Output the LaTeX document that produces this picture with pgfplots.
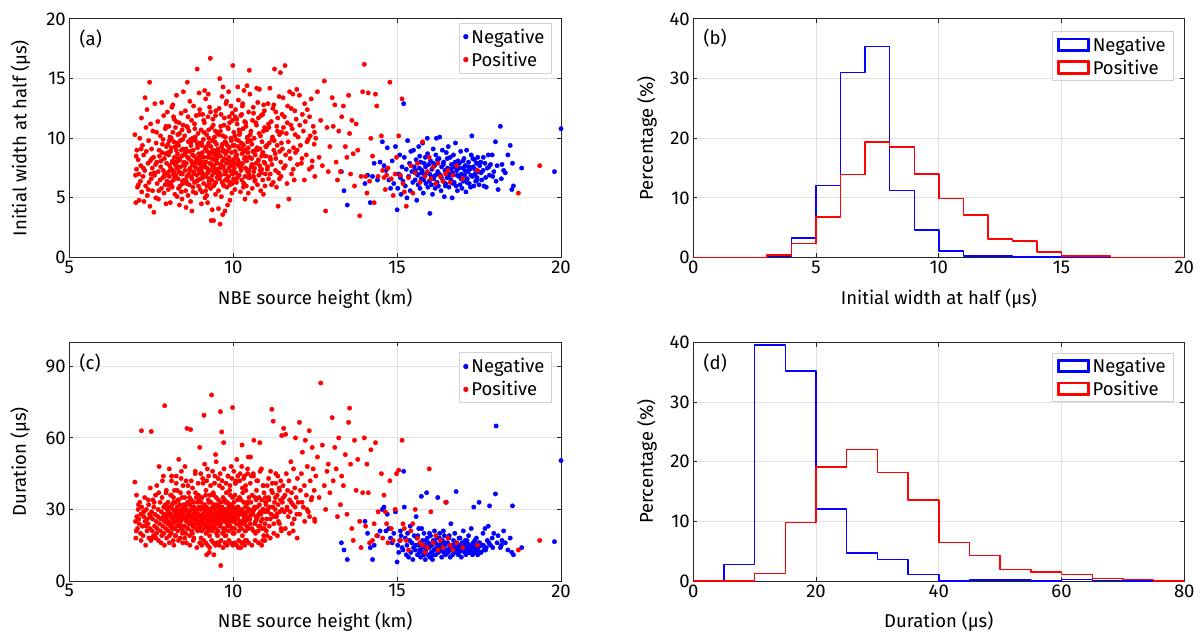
\documentclass[border=0pt]{standalone}
\usepackage{fontspec}
\setmainfont{Fira Sans}
\usepackage{pgfplots}
\usepackage{pgfplotstable}
\pgfplotsset{compat=1.18}
\newcommand\fs{\fontsize{18.5}{22}\selectfont}
\definecolor{nblue}{RGB}{0,0,255}
\definecolor{pred}{RGB}{255,0,0}
\definecolor{axc}{RGB}{38,38,38}
\definecolor{gridc}{RGB}{224,224,224}
\definecolor{legc}{RGB}{210,210,210}

\pgfplotstableread[row sep=\\]{
x w d\\
7.00 10.3 41.5\\ 7.02 6.9 25\\ 7.03 4.6 18\\ 7.05 7.4 36\\ 7.06 9.0 27\\ 7.08 5.9 22\\
7.10 8.2 30\\ 7.12 7.0 26\\ 7.13 4.8 24\\ 7.15 10.0 33\\ 7.17 6.4 20\\ 7.18 7.7 28\\
7.20 11.7 63\\ 7.21 5.5 31\\ 7.23 9.4 23\\ 7.25 6.8 19\\ 7.27 8.6 27\\ 7.28 4.7 29\\
7.30 7.3 35\\ 7.31 13.4 25\\ 7.33 6.0 15\\ 7.35 8.9 30\\ 7.37 12.4 21\\ 7.38 5.2 26\\
7.40 7.9 24\\ 7.42 9.8 32\\ 7.43 6.3 18\\ 7.45 14.7 28\\ 7.46 4.3 22\\ 7.47 8.1 39\\
7.48 11.2 27\\ 7.49 7.0 17\\
7.50 6.6 62.7\\ 7.51 9.1 29\\ 7.53 7.5 21\\ 7.54 5.6 26\\ 7.55 10.6 34\\ 7.57 8.4 19\\
7.58 3.8 31\\ 7.60 6.9 23\\ 7.61 12.9 28\\ 7.63 7.8 36\\ 7.64 5.0 18\\ 7.65 9.6 25\\
7.67 8.0 40\\ 7.68 6.2 22\\ 7.70 11.4 27\\ 7.71 7.2 30\\ 7.72 4.9 17\\ 7.74 9.0 48\\
7.75 8.5 24\\ 7.77 6.5 33\\ 7.78 10.2 21\\ 7.79 7.6 26\\ 7.81 5.8 29\\ 7.82 13.0 19\\
7.83 8.8 35\\ 7.85 6.7 23\\ 7.86 9.9 27\\ 7.87 7.3 44\\ 7.88 11.9 31\\ 7.89 5.4 20\\
7.90 8.3 25\\ 7.91 7.0 73.5\\ 7.92 6.1 28\\ 7.93 10.8 32\\ 7.94 8.7 22\\ 7.95 4.5 26\\
7.96 9.3 38\\ 7.97 7.9 18\\ 7.98 6.4 30\\ 7.99 12.2 24\\
7.04 8.5 21\\ 7.11 6.1 32\\ 7.19 9.1 17\\ 7.26 7.5 29\\ 7.34 10.9 23\\ 7.41 5.7 34\\
7.52 8.3 18\\ 7.59 7.1 33\\ 7.66 10.5 20\\ 7.73 5.6 37\\ 7.80 8.1 16\\ 7.84 9.5 42\\
7.90 6.8 15\\ 7.95 11.0 37\\
8.00 7.1 27\\ 8.01 9.5 33\\ 8.02 5.7 21\\ 8.03 8.6 29\\ 8.04 11.0 25\\ 8.05 6.8 47\\
8.06 7.7 19\\ 8.07 10.1 31\\ 8.08 4.6 23\\ 8.09 8.9 36\\ 8.10 6.3 28\\ 8.11 9.2 20\\
8.12 7.4 42\\ 8.13 12.6 26\\ 8.14 5.9 32\\ 8.15 8.1 24\\ 8.16 10.5 30\\ 8.17 7.0 17\\
8.18 6.5 35\\ 8.19 9.7 27\\ 8.20 11.6 22\\ 8.21 8.4 38\\ 8.22 5.3 29\\ 8.23 7.8 25\\
8.24 10.9 33\\ 8.25 6.9 19\\ 8.26 9.0 44\\ 8.27 13.6 28\\ 8.28 7.5 23\\ 8.29 5.1 31\\
8.30 8.7 26\\ 8.31 10.3 21\\ 8.32 6.6 34\\ 8.33 9.4 29\\ 8.34 7.2 51\\ 8.35 11.3 24\\
8.36 4.4 27\\ 8.37 8.2 32\\ 8.38 6.0 18\\ 8.39 9.8 37\\ 8.40 7.6 25\\ 8.41 12.1 30\\
8.42 5.5 22\\ 8.43 8.5 28\\ 8.44 10.7 35\\ 8.45 7.0 20\\ 8.46 6.2 26\\ 8.47 9.1 40\\
8.48 13.9 31\\ 8.49 7.9 23\\ 8.25 8.0 27\\
8.02 8.8 31\\ 8.04 6.1 24\\ 8.07 7.3 28\\ 8.11 10.0 36\\ 8.14 8.0 22\\ 8.18 11.8 33\\
8.21 6.7 27\\ 8.23 9.3 19\\ 8.27 7.7 30\\ 8.31 8.3 25\\ 8.33 5.8 34\\ 8.36 10.4 28\\
8.39 7.1 23\\ 8.42 9.0 46\\ 8.45 6.4 29\\ 8.47 11.1 21\\ 8.49 8.6 32\\ 8.44 4.9 26\\
8.16 12.8 27\\ 8.29 9.6 38\\
8.05 9.8 16\\ 8.12 6.0 44\\ 8.19 7.2 15\\ 8.26 11.4 41\\ 8.33 8.1 17\\ 8.41 7.0 43\\
8.46 9.9 16\\
8.50 8.0 29\\ 8.51 6.5 23\\ 8.52 10.2 35\\ 8.53 7.3 27\\ 8.54 12.3 31\\ 8.55 5.6 20\\
8.56 9.1 42\\ 8.57 7.9 25\\ 8.58 11.0 30\\ 8.59 6.8 64\\ 8.60 14.7 26\\ 8.61 8.4 33\\
8.62 5.2 22\\ 8.63 9.7 28\\ 8.64 7.0 37\\ 8.65 10.6 24\\ 8.66 6.1 29\\ 8.67 8.9 19\\
8.68 13.1 32\\ 8.69 7.5 27\\ 8.70 4.7 63.5\\ 8.71 9.4 25\\ 8.72 8.1 34\\ 8.73 11.5 21\\
8.74 6.6 30\\ 8.75 7.8 26\\ 8.76 10.0 39\\ 8.77 5.9 23\\ 8.78 9.0 28\\ 8.79 12.7 33\\
8.80 7.2 18\\ 8.81 8.5 31\\ 8.82 6.3 24\\ 8.83 10.8 27\\ 8.84 7.6 45\\ 8.85 9.8 29\\
8.86 5.4 22\\ 8.87 11.9 35\\ 8.88 8.2 26\\ 8.89 6.9 30\\ 8.90 15.8 24\\ 8.91 9.2 33\\
8.92 7.4 21\\ 8.93 10.4 28\\ 8.94 6.0 36\\ 8.95 8.7 25\\ 8.96 13.8 31\\ 8.97 7.1 27\\
8.98 9.6 56\\ 8.99 5.7 23\\
8.52 7.7 18\\ 8.55 8.8 32\\ 8.58 6.2 27\\ 8.61 10.9 22\\ 8.64 8.3 29\\ 8.67 7.4 35\\
8.70 9.9 24\\ 8.73 6.7 31\\ 8.76 8.6 20\\ 8.79 7.0 28\\ 8.82 11.2 26\\ 8.85 8.0 37\\
8.88 6.4 25\\ 8.91 9.5 30\\ 8.94 7.9 22\\ 8.97 12.0 34\\ 8.99 8.4 27\\ 8.56 4.2 26\\
8.74 3.9 24\\
8.53 8.7 48\\ 8.57 6.4 16\\ 8.62 11.8 40\\ 8.68 7.3 15\\ 8.72 9.7 42\\ 8.78 5.5 17\\
8.84 10.1 46\\ 8.89 8.3 14\\ 8.93 6.5 41\\ 8.98 12.4 16\\
9.00 8.1 30\\ 9.01 6.6 24\\ 9.02 10.7 33\\ 9.03 7.3 27\\ 9.04 9.4 21\\ 9.05 5.5 35\\
9.06 8.8 28\\ 9.07 12.0 25\\ 9.08 7.0 41\\ 9.09 9.9 30\\ 9.10 6.2 22\\ 9.11 8.4 69.5\\
9.12 11.3 27\\ 9.13 7.7 32\\ 9.14 5.0 24\\ 9.15 9.1 29\\ 9.16 13.3 36\\ 9.17 8.0 20\\
9.18 6.8 26\\ 9.19 10.3 31\\ 9.20 7.5 23\\ 9.21 8.9 47\\ 9.22 4.6 28\\ 9.23 11.8 25\\
9.24 7.2 34\\ 9.25 9.6 22\\ 9.26 6.4 30\\ 9.27 8.6 27\\ 9.28 12.6 19\\ 9.29 7.9 36\\
9.30 16.7 29\\ 9.31 5.8 24\\ 9.32 9.3 33\\ 9.33 3.1 26\\ 9.34 8.3 78\\ 9.35 10.9 28\\
9.36 6.9 21\\ 9.37 7.6 31\\ 9.38 9.0 25\\ 9.39 11.1 37\\ 9.40 3.1 27\\ 9.41 8.2 23\\
9.42 6.1 32\\ 9.43 10.1 29\\ 9.44 7.4 44\\ 9.45 8.7 26\\ 9.46 5.3 30\\ 9.47 12.3 22\\
9.48 7.1 35\\ 9.49 9.5 27\\
9.02 7.8 18\\ 9.05 8.5 26\\ 9.08 6.7 31\\ 9.11 10.5 24\\ 9.14 7.6 29\\ 9.17 9.2 38\\
9.20 6.0 27\\ 9.23 8.4 21\\ 9.26 10.0 33\\ 9.29 7.3 26\\ 9.32 8.8 30\\ 9.35 6.5 23\\
9.38 11.6 28\\ 9.41 7.7 36\\ 9.44 9.7 25\\ 9.47 6.3 31\\ 9.49 8.0 20\\ 9.03 4.5 27\\
9.13 14.0 30\\ 9.24 13.7 26\\ 9.36 4.0 22\\ 9.46 10.6 53\\ 9.19 5.2 11\\ 9.27 6.2 12\\
9.41 7.2 11\\
9.01 7.5 45\\ 9.04 9.6 15\\ 9.07 6.9 43\\ 9.10 11.5 17\\ 9.13 8.0 49\\ 9.16 5.6 16\\
9.19 9.3 42\\ 9.22 7.1 15\\ 9.25 10.7 44\\ 9.28 6.6 14\\ 9.31 12.2 40\\ 9.34 7.8 17\\
9.37 9.8 46\\ 9.40 6.0 16\\ 9.43 8.6 41\\ 9.46 11.9 15\\ 9.48 7.4 50\\
9.50 8.3 29\\ 9.51 6.7 24\\ 9.52 10.4 32\\ 9.53 7.4 27\\ 9.54 9.1 21\\ 9.55 5.6 34\\
9.56 8.9 28\\ 9.57 12.5 25\\ 9.58 7.1 40\\ 9.59 15.0 30\\ 9.60 2.8 23\\ 9.61 8.5 71\\
9.62 11.0 27\\ 9.63 7.8 33\\ 9.64 5.1 26\\ 9.65 9.3 62.5\\ 9.66 13.5 31\\ 9.67 8.1 20\\
9.68 3.6 29\\ 9.69 10.2 35\\ 9.70 7.6 22\\ 9.71 9.0 58\\ 9.72 6.0 28\\ 9.73 11.7 25\\
9.74 7.3 34\\ 9.75 9.7 22\\ 9.76 6.5 30\\ 9.77 8.7 27\\ 9.78 12.9 19\\ 9.79 7.9 37\\
9.80 13.1 29\\ 9.81 5.9 24\\ 9.82 9.4 33\\ 9.83 4.4 26\\ 9.84 8.2 44\\ 9.85 10.8 28\\
9.86 6.8 21\\ 9.87 7.5 31\\ 9.88 9.2 25\\ 9.89 11.3 38\\ 9.90 4.8 27\\ 9.91 8.0 23\\
9.92 6.3 32\\ 9.93 10.0 29\\ 9.94 7.2 48\\ 9.95 8.8 26\\ 9.96 5.4 30\\ 9.97 12.1 22\\
9.98 7.0 35\\ 9.99 16.1 27\\
9.52 7.9 19\\ 9.55 8.6 26\\ 9.58 6.6 31\\ 9.61 10.6 24\\ 9.64 7.7 29\\ 9.67 9.5 39\\
9.70 6.1 27\\ 9.73 8.3 21\\ 9.76 10.1 33\\ 9.79 7.2 26\\ 9.82 8.9 30\\ 9.85 6.4 23\\
9.88 11.8 28\\ 9.91 7.8 36\\ 9.94 9.8 25\\ 9.97 6.2 31\\ 9.99 8.1 20\\ 9.62 6.9 6.5\\
9.55 4.1 16\\ 9.75 3.9 19\\ 9.86 13.9 32\\ 9.69 14.3 30\\ 9.98 11.5 72.7\\
9.51 9.0 16\\ 9.54 6.8 43\\ 9.57 10.3 15\\ 9.60 7.5 45\\ 9.63 12.0 17\\ 9.66 6.3 42\\
9.69 8.9 14\\ 9.72 11.1 47\\ 9.75 7.0 16\\ 9.78 9.6 41\\ 9.81 6.6 15\\ 9.84 10.9 44\\
9.87 8.4 17\\ 9.90 6.1 40\\ 9.93 12.7 16\\ 9.96 7.7 43\\ 9.99 9.4 15\\
10.00 8.2 31\\ 10.01 6.6 25\\ 10.02 10.5 33\\ 10.03 7.5 28\\ 10.04 9.4 22\\ 10.05 5.7 36\\
10.06 8.9 29\\ 10.07 12.4 26\\ 10.08 7.1 42\\ 10.09 9.9 30\\ 10.10 6.3 24\\ 10.11 8.6 51\\
10.12 11.2 27\\ 10.13 7.8 34\\ 10.14 14.3 26\\ 10.15 9.3 31\\ 10.16 13.2 29\\ 10.17 8.0 21\\
10.18 6.9 28\\ 10.19 10.3 35\\ 10.20 7.6 23\\ 10.21 9.1 45\\ 10.22 5.5 28\\ 10.23 11.9 25\\
10.24 7.3 34\\ 10.25 9.6 22\\ 10.26 6.5 30\\ 10.27 8.7 57\\ 10.28 12.7 19\\ 10.29 7.9 37\\
10.30 10.8 29\\ 10.31 5.9 24\\ 10.32 9.4 33\\ 10.33 14.0 26\\ 10.34 8.3 44\\ 10.35 11.4 28\\
10.36 6.8 21\\ 10.37 7.5 31\\ 10.38 9.0 25\\ 10.39 11.0 38\\ 10.40 6.0 27\\ 10.41 8.1 23\\
10.42 14.4 32\\ 10.43 10.1 29\\ 10.44 7.2 47\\ 10.45 8.8 26\\ 10.46 5.4 30\\ 10.47 12.2 22\\
10.48 7.0 35\\ 10.49 15.7 27\\
10.03 7.9 20\\ 10.08 8.5 26\\ 10.13 6.7 31\\ 10.18 10.7 24\\ 10.23 7.7 29\\ 10.28 9.5 39\\
10.33 6.2 27\\ 10.38 8.4 21\\ 10.43 10.0 33\\ 10.48 7.3 26\\ 10.06 11.8 41\\ 10.16 9.8 14\\
10.26 12.0 16\\ 10.36 4.9 17\\ 10.46 9.2 52\\
10.02 7.2 46\\ 10.05 10.2 16\\ 10.08 6.4 41\\ 10.11 11.6 15\\ 10.14 8.2 44\\ 10.17 6.9 17\\
10.20 10.5 42\\ 10.23 7.6 14\\ 10.26 9.1 48\\ 10.29 12.9 16\\ 10.32 6.2 43\\ 10.35 8.9 15\\
10.38 11.3 40\\ 10.41 7.4 17\\ 10.44 9.7 45\\ 10.47 6.7 16\\
10.50 8.4 30\\ 10.52 6.7 24\\ 10.54 10.6 33\\ 10.55 7.6 28\\ 10.57 9.5 22\\ 10.58 5.8 36\\
10.60 8.9 29\\ 10.61 12.6 45\\ 10.63 7.2 59\\ 10.64 10.0 30\\ 10.66 6.4 24\\ 10.67 8.6 35\\
10.69 11.3 27\\ 10.70 7.9 34\\ 10.72 14.2 26\\ 10.73 9.2 31\\ 10.75 13.0 42\\ 10.76 8.1 21\\
10.78 6.9 28\\ 10.79 10.4 35\\ 10.81 7.7 58\\ 10.82 9.1 23\\ 10.84 5.6 28\\ 10.85 11.9 25\\
10.87 7.4 34\\ 10.88 9.7 22\\ 10.90 6.5 30\\ 10.91 8.8 40\\ 10.93 12.8 19\\ 10.94 8.0 37\\
10.96 10.9 29\\ 10.97 6.0 24\\ 10.99 9.3 33\\ 10.51 13.7 26\\ 10.56 8.3 44\\ 10.59 11.5 28\\
10.62 6.8 21\\ 10.65 7.5 31\\ 10.68 9.0 25\\ 10.71 11.1 38\\ 10.74 6.1 27\\ 10.77 8.2 23\\
10.80 14.1 32\\ 10.83 10.2 29\\ 10.86 7.1 47\\ 10.89 8.7 26\\ 10.92 5.3 30\\ 10.95 12.3 22\\
10.98 7.0 35\\ 10.53 9.8 52\\ 10.68 4.7 20\\ 10.90 12.0 17\\
10.52 10.3 41\\ 10.57 7.8 15\\ 10.62 12.1 44\\ 10.67 6.5 17\\ 10.72 9.0 42\\ 10.77 11.7 16\\
10.82 7.3 46\\ 10.87 8.5 15\\ 10.92 10.6 40\\ 10.97 7.9 17\\
11.00 8.5 32\\ 11.02 10.7 26\\ 11.04 7.4 40\\ 11.06 12.9 29\\ 11.08 6.6 35\\ 11.10 9.6 23\\
11.12 14.2 31\\ 11.14 8.2 46\\ 11.16 11.4 28\\ 11.18 7.8 72\\ 11.20 10.1 37\\ 11.22 6.3 67\\
11.24 9.0 24\\ 11.26 15.8 33\\ 11.28 8.7 30\\ 11.30 12.2 41\\ 11.32 5.9 27\\ 11.34 9.4 36\\
11.36 11.7 44\\ 11.38 7.1 25\\ 11.40 13.5 39\\ 11.42 8.9 29\\ 11.44 15.5 34\\ 11.46 6.8 22\\
11.48 10.5 61\\ 11.01 9.3 21\\ 11.05 7.6 30\\ 11.09 10.9 34\\ 11.13 8.4 26\\ 11.17 6.1 38\\
11.21 12.5 31\\ 11.25 9.8 27\\ 11.29 7.3 35\\ 11.33 11.0 28\\ 11.37 4.3 32\\ 11.41 10.3 24\\
11.45 8.0 42\\ 11.49 12.0 30\\
11.03 9.4 19\\ 11.08 11.2 43\\ 11.13 7.0 18\\ 11.19 9.9 41\\ 11.24 12.8 20\\ 11.30 8.3 45\\
11.35 10.6 19\\ 11.41 6.6 38\\ 11.47 9.6 21\\
11.50 9.1 33\\ 11.52 13.4 40\\ 11.54 7.5 64\\ 11.56 11.8 29\\ 11.58 16.1 36\\ 11.60 8.6 61.5\\
11.62 10.4 45\\ 11.64 6.2 31\\ 11.66 12.7 38\\ 11.68 9.7 27\\ 11.70 4.9 42\\ 11.72 13.9 34\\
11.74 8.3 29\\ 11.76 11.1 50\\ 11.78 7.0 37\\ 11.80 10.8 24\\ 11.82 13.7 32\\ 11.84 9.2 47\\
11.86 6.5 26\\ 11.88 12.3 39\\ 11.90 8.8 60\\ 11.92 11.6 35\\ 11.94 14.1 28\\ 11.96 7.8 43\\
11.98 10.1 33\\
11.53 10.9 35\\ 11.59 7.7 22\\ 11.65 11.3 30\\ 11.71 8.9 20\\ 11.77 12.5 33\\ 11.83 7.4 21\\
11.89 10.3 31\\ 11.95 9.0 18\\
12.02 13.6 66.5\\ 12.05 9.4 38\\ 12.08 7.9 45\\ 12.11 12.0 54\\ 12.14 10.6 31\\ 12.17 6.5 40\\
12.20 11.4 59\\ 12.23 8.6 36\\ 12.26 12.4 48\\ 12.29 9.9 29\\ 12.32 7.4 63\\ 12.35 10.2 42\\
12.38 13.3 34\\ 12.41 8.1 56\\ 12.44 11.0 47\\ 12.47 9.5 38\\ 12.49 6.8 25\\
12.03 11.1 28\\ 12.10 8.3 33\\ 12.18 12.9 25\\ 12.25 9.7 30\\ 12.33 11.8 27\\ 12.40 7.6 35\\
12.48 10.5 26\\
12.52 10.0 44\\ 12.57 13.9 52\\ 12.62 8.4 35\\ 12.67 11.5 83\\ 12.72 7.7 57\\ 12.78 14.8 40\\
12.82 3.9 30\\ 12.86 10.9 46\\ 12.90 7.2 49\\ 12.95 9.3 37\\
13.02 13.4 68.5\\ 13.05 11.0 42\\ 13.10 12.8 56\\ 13.14 8.0 47\\ 13.18 6.5 27\\ 13.22 10.6 60\\
13.27 7.2 32\\ 13.31 11.8 44\\ 13.36 12.7 40\\ 13.42 9.3 53\\ 13.47 8.4 28\\
13.52 13.6 66.5\\ 13.55 10.4 72.5\\ 13.58 7.0 49\\ 13.62 11.5 22\\ 13.66 8.7 17\\ 13.70 6.0 59\\
13.75 11.2 38\\ 13.80 9.0 51\\ 13.86 3.5 25\\ 13.90 6.8 14\\ 13.95 13.9 37\\
14.00 16.2 60\\ 14.04 6.8 23\\ 14.08 5.4 49\\ 14.12 13.8 37\\ 14.16 6.4 16\\ 14.20 10.0 55\\
14.25 8.5 17\\ 14.30 4.6 24\\ 14.34 13.7 58\\ 14.38 12.7 19\\ 14.42 6.8 29\\
14.52 10.2 45\\ 14.56 7.3 18\\ 14.60 6.7 36\\ 14.64 5.7 29\\ 14.68 6.9 24\\ 14.72 7.5 16\\
14.78 14.7 42\\ 14.82 6.6 22\\ 14.88 5.2 17\\ 14.94 7.0 30\\ 14.98 8.4 45\\
15.05 10.2 46.5\\ 15.10 6.9 17\\ 15.15 13.3 59\\ 15.18 6.2 24\\ 15.22 5.5 22\\ 15.28 4.3 17\\
15.35 6.7 13\\ 15.42 7.7 21\\ 15.48 5.4 24\\ 15.55 7.1 30\\ 15.62 7.9 18\\ 15.70 6.3 16\\
15.78 9.7 15\\ 15.85 6.8 12\\ 15.92 7.2 14\\ 15.98 8.4 47\\ 16.03 6.6 29\\ 16.10 7.6 16\\
16.18 6.2 19\\ 16.25 7.9 13\\ 16.32 6.8 17\\ 16.40 6.4 14\\ 16.48 7.0 33\\ 16.55 7.3 18\\
16.62 6.3 15\\ 16.70 6.9 13\\ 16.82 7.7 16\\ 17.00 6.6 14\\ 17.45 7.3 15\\ 18.70 5.4 13\\
19.35 7.7 17\\
}\redtab

\pgfplotstableread[row sep=\\]{
x w d\\
13.30 7.2 16\\ 13.38 5.6 13\\ 13.48 4.4 9\\ 14.02 6.2 25\\ 14.10 6.9 20\\ 14.18 4.6 14\\
14.25 6.8 9\\ 14.30 7.9 15\\ 14.40 6.5 19\\ 14.48 8.0 21\\ 14.55 9.7 30\\ 14.60 7.7 31\\
14.66 7.3 21\\ 14.70 9.2 28\\ 14.75 6.5 22\\ 14.80 5.8 18\\ 14.85 8.1 16\\ 14.90 6.2 20\\
14.95 9.3 29\\ 15.00 4.0 8\\ 15.02 5.8 15\\ 15.05 7.0 12\\ 15.08 8.6 17\\ 15.10 6.7 21\\
15.12 5.3 19\\ 15.15 7.6 14\\ 15.18 6.4 13\\ 15.20 12.9 46\\ 15.22 8.4 31\\ 15.25 6.0 18\\
15.28 7.4 11\\ 15.30 5.0 15\\ 15.32 9.8 20\\ 15.35 6.8 10\\ 15.38 7.9 17\\ 15.40 5.6 23\\
15.42 8.9 12\\ 15.45 7.2 16\\ 15.48 6.3 9\\ 15.50 9.0 14\\ 15.52 7.6 19\\ 15.55 6.5 13\\
15.58 8.2 27\\ 15.60 4.8 18\\ 15.62 7.0 11\\ 15.64 6.1 15\\ 15.66 9.3 22\\ 15.68 7.5 12\\
15.70 5.8 16\\ 15.72 8.0 10\\ 15.74 6.6 35.5\\ 15.76 7.3 14\\ 15.78 9.6 17\\ 15.80 5.4 12\\
15.82 7.9 20\\ 15.84 6.9 15\\ 15.86 8.4 9\\ 15.88 6.2 13\\ 15.90 7.1 37\\ 15.92 10.0 18\\
15.94 5.9 11\\ 15.96 7.8 16\\ 15.98 6.4 14\\ 16.00 3.7 10\\ 16.02 8.1 19\\ 16.04 6.8 12\\
16.06 7.4 15\\ 16.08 5.3 9\\ 16.10 9.1 17\\ 16.12 6.6 13\\ 16.14 7.7 21\\ 16.16 5.8 16\\
16.18 8.6 11\\ 16.20 10.0 14\\ 16.22 6.3 18\\ 16.24 7.2 35\\ 16.26 6.0 12\\ 16.28 8.3 15\\
16.30 10.1 20\\ 16.32 6.9 13\\ 16.34 5.6 16\\ 16.36 7.6 10\\ 16.38 9.0 17\\ 16.40 6.4 14\\
16.42 8.0 12\\ 16.44 5.1 19\\ 16.46 7.3 15\\ 16.48 6.2 11\\ 16.50 8.8 33\\ 16.52 6.7 13\\
16.54 7.5 16\\ 16.56 9.3 12\\ 16.58 5.9 18\\ 16.60 7.0 14\\ 16.62 8.4 10\\ 16.64 6.5 24\\
16.66 7.8 13\\ 16.68 5.0 15\\ 16.70 7.1 11\\ 16.72 8.6 17\\ 16.74 6.3 12\\ 16.76 7.6 20\\
16.78 9.6 14\\ 16.80 6.0 37.5\\ 16.82 7.3 16\\ 16.84 5.6 13\\ 16.86 8.1 11\\ 16.88 6.8 15\\
16.90 7.9 12\\ 16.92 6.1 18\\ 16.94 8.9 14\\ 16.96 7.0 10\\ 16.98 5.8 16\\ 17.00 7.5 13\\
17.02 6.4 21\\ 17.04 8.3 15\\ 17.06 6.9 12\\ 17.08 7.7 17\\ 17.10 5.5 11\\ 17.12 9.0 14\\
17.14 6.6 16\\ 17.16 7.2 13\\ 17.18 8.0 19\\ 17.20 6.2 12\\ 17.22 7.4 15\\ 17.24 5.9 14\\
17.26 8.6 22\\ 17.28 10.2 13\\ 17.30 6.8 11\\ 17.32 7.6 16\\ 17.34 6.0 31\\ 17.36 8.2 14\\
17.38 7.0 12\\ 17.40 6.4 15\\ 17.42 7.9 18\\ 17.44 6.7 13\\ 17.46 8.4 11\\ 17.48 7.2 14\\
17.50 6.1 33\\ 17.52 7.7 16\\ 17.55 8.0 12\\ 17.58 6.5 15\\ 17.62 7.3 20\\ 17.65 6.0 13\\
17.68 7.9 22\\ 17.72 5.9 14\\ 17.75 7.5 17\\ 17.78 8.6 23\\ 17.82 6.9 31.5\\ 17.85 7.8 15\\
17.90 8.6 18\\ 17.95 7.2 20\\ 18.00 9.7 36.5\\ 18.02 6.4 65\\ 18.08 5.7 19\\ 18.15 11.0 14\\
18.20 7.8 17\\ 18.25 7.3 21\\ 18.30 7.1 16\\ 18.38 8.6 13\\ 18.45 9.4 18\\ 18.50 5.7 12\\
18.52 7.9 31.5\\ 18.55 6.0 11\\ 18.80 7.5 14\\ 19.80 7.2 16.5\\ 20.00 10.8 50.5\\
15.56 7.3 15\\ 15.63 6.9 19\\ 15.69 8.5 13\\ 15.75 7.1 22\\ 15.81 6.5 11\\ 15.87 7.6 17\\
15.93 8.7 14\\ 15.99 7.0 20\\ 16.05 6.1 15\\ 16.11 7.9 11\\ 16.17 6.9 16\\ 16.23 8.2 13\\
16.29 7.0 18\\ 16.35 6.7 14\\ 16.41 7.8 21\\ 16.47 6.0 16\\ 16.53 8.3 12\\ 16.59 6.8 19\\
16.65 7.4 15\\ 16.71 6.2 13\\ 16.77 8.0 16\\ 16.83 6.9 12\\ 16.89 7.5 18\\ 16.95 6.6 14\\
17.01 8.1 16\\ 17.07 7.3 13\\ 17.13 6.3 17\\ 17.19 7.6 12\\ 17.25 6.9 15\\ 17.31 8.3 13\\
17.37 7.4 17\\ 17.43 6.5 14\\ 17.49 7.9 16\\ 17.56 7.1 12\\ 17.63 8.4 15\\ 17.70 6.7 13\\
17.80 7.6 16\\ 17.92 6.8 14\\ 18.05 7.7 16\\ 18.18 6.6 15\\
}\bluetab

% stair outlines of the histograms (bin edges, percentage)
\pgfplotstableread[row sep=\\]{
x y\\
0 0\\ 3 0\\ 3 0.28\\ 4 0.28\\ 4 3.24\\ 5 3.24\\ 5 12.07\\ 6 12.07\\ 6 31.06\\ 7 31.06\\
7 35.4\\ 8 35.4\\ 8 11.2\\ 9 11.2\\ 9 4.6\\ 10 4.6\\ 10 1.06\\ 11 1.06\\ 11 0.22\\ 13 0.22\\
13 0.06\\ 16 0.06\\ 16 0\\ 20 0\\
}\histwn
\pgfplotstableread[row sep=\\]{
x y\\
0 0\\ 3 0\\ 3 0.45\\ 4 0.45\\ 4 2.3\\ 5 2.3\\ 5 6.8\\ 6 6.8\\ 6 13.9\\ 7 13.9\\
7 19.4\\ 8 19.4\\ 8 18.5\\ 9 18.5\\ 9 14.0\\ 10 14.0\\ 10 9.9\\ 11 9.9\\ 11 7.15\\ 12 7.15\\
12 3.07\\ 13 3.07\\ 13 2.8\\ 14 2.8\\ 14 0.9\\ 15 0.9\\ 15 0.28\\ 16 0.28\\ 16 0.22\\ 17 0.22\\
17 0\\ 20 0\\
}\histwp
\pgfplotstableread[row sep=\\]{
x y\\
0 0\\ 5 0\\ 5 2.75\\ 10 2.75\\ 10 39.6\\ 15 39.6\\ 15 35.2\\ 20 35.2\\ 20 12.1\\ 25 12.1\\
25 4.7\\ 30 4.7\\ 30 3.6\\ 35 3.6\\ 35 1.06\\ 40 1.06\\ 40 0\\ 45 0\\ 45 0.2\\ 55 0.2\\
55 0\\ 60 0\\ 60 0.28\\ 65 0.28\\ 65 0.05\\ 70 0.05\\ 70 0\\ 80 0\\
}\histdn
\pgfplotstableread[row sep=\\]{
x y\\
0 0\\ 10 0\\ 10 1.23\\ 15 1.23\\ 15 9.86\\ 20 9.86\\ 20 19.1\\ 25 19.1\\ 25 22.1\\ 30 22.1\\
30 18.15\\ 35 18.15\\ 35 13.56\\ 40 13.56\\ 40 6.5\\ 45 6.5\\ 45 4.3\\ 50 4.3\\ 50 1.9\\ 55 1.9\\
55 1.5\\ 60 1.5\\ 60 1.06\\ 65 1.06\\ 65 0.45\\ 70 0.45\\ 70 0.28\\ 75 0.28\\ 75 0\\ 80 0\\
}\histdp

\pgfplotsset{
  myax/.style={
    scale only axis, height=238.5pt, anchor=south west,
    axis line style={draw=axc, line width=1pt},
    tick style={draw=axc, line width=1pt},
    tick align=inside, major tick length=4pt,
    grid=major, major grid style={draw=gridc, line width=1pt},
    /pgf/number format/assume math mode=true,
    tick label style={font=\fs},
    label style={font=\fs},
    xlabel shift=8pt,
    legend cell align=left,
  },
  scat/.style={myax, width=491.7pt, xmin=5, xmax=20, xtick={5,10,15,20},
    xlabel={NBE source height (km)}, ylabel shift=9pt,
    legend style={at={(1,1)}, anchor=north east,
      draw=legc, line width=1pt, fill=white, font=\fs, row sep=3pt,
      nodes={inner xsep=3pt, inner ysep=2pt}, inner xsep=4pt, inner ysep=3.5pt},
  },
  hist/.style={myax, width=491pt, ymin=0, ymax=40, ytick={0,10,20,30,40},
    ylabel={Percentage (\%)}, ylabel shift=6pt,
    legend style={at={(1,1)}, anchor=north east, xshift=-10pt,
      draw=legc, line width=1pt, fill=white, font=\fs, row sep=3pt,
      nodes={inner xsep=3pt, inner ysep=2pt}, inner xsep=5pt, inner ysep=3pt},
  },
  hline/.style={sharp plot, no marks, line width=1.4pt, line join=round, line cap=round,
    draw opacity=0.99},
}
% outlined patch for the histogram legends, drawn as a filled frame
\newcommand\patch[1]{\fill[#1, even odd rule] (0pt,-6.5pt) rectangle (31pt,6.5pt)
  (1.4pt,-5.1pt) rectangle (29.6pt,5.1pt);}

\begin{document}
\begin{tikzpicture}
\path[use as bounding box] (0,0) rectangle (1204pt,632pt);

% (a)
\begin{axis}[scat, at={(69.3pt,374.5pt)}, ymin=0, ymax=20, ytick={0,5,10,15,20},
  ylabel={Initial width at half (µs)},
  legend style={xshift=-9pt, yshift=-3.7pt}]
\addplot[only marks, mark=*, mark size=2.2pt, color=nblue, mark options={draw=none, fill=nblue},
  legend image code/.code={\fill[nblue] (4pt,0pt) circle (2.1pt);}]
  table[x=x, y=w]{\bluetab};
\addlegendentry{Negative}
\addplot[only marks, mark=*, mark size=2.2pt, color=pred, mark options={draw=none, fill=pred},
  legend image code/.code={\fill[pred] (4pt,0pt) circle (2.1pt);}]
  table[x=x, y=w]{\redtab};
\addlegendentry{Positive}
\node[anchor=west, font=\fs] at (rel axis cs:0.014,0.916) {(a)};
\end{axis}

% (b)
\begin{axis}[hist, at={(693.3pt,374.5pt)}, xmin=0, xmax=20, xtick={0,5,10,15,20},
  xlabel={Initial width at half (µs)},
  legend style={yshift=-12.3pt}]
\addplot[hline, color=nblue, legend image code/.code={\patch{nblue}}]
  table[x=x, y=y]{\histwn};
\addlegendentry{Negative}
\addplot[hline, color=pred, legend image code/.code={\patch{pred}}]
  table[x=x, y=y]{\histwp};
\addlegendentry{Positive}
\node[anchor=west, font=\fs] at (rel axis cs:0.014,0.92) {(b)};
\end{axis}

% (c)
\begin{axis}[scat, at={(69.3pt,51pt)}, ymin=0, ymax=100, ytick={0,30,60,90},
  ylabel={Duration (µs)},
  legend style={xshift=-9pt, yshift=-10pt}]
\addplot[only marks, mark=*, mark size=2.2pt, color=nblue, mark options={draw=none, fill=nblue},
  legend image code/.code={\fill[nblue] (4pt,0pt) circle (2.1pt);}]
  table[x=x, y=d]{\bluetab};
\addlegendentry{Negative}
\addplot[only marks, mark=*, mark size=2.2pt, color=pred, mark options={draw=none, fill=pred},
  legend image code/.code={\fill[pred] (4pt,0pt) circle (2.1pt);}]
  table[x=x, y=d]{\redtab};
\addlegendentry{Positive}
\node[anchor=west, font=\fs] at (rel axis cs:0.014,0.915) {(c)};
\end{axis}

% (d)
\begin{axis}[hist, at={(693.3pt,51pt)}, xmin=0, xmax=80, xtick={0,20,40,60,80},
  xlabel={Duration (µs)},
  legend style={yshift=-10pt}]
\addplot[hline, color=nblue, legend image code/.code={\patch{nblue}}]
  table[x=x, y=y]{\histdn};
\addlegendentry{Negative}
\addplot[hline, color=pred, legend image code/.code={\patch{pred}}]
  table[x=x, y=y]{\histdp};
\addlegendentry{Positive}
\node[anchor=west, font=\fs] at (rel axis cs:0.014,0.915) {(d)};
\end{axis}
\end{tikzpicture}
\end{document}
